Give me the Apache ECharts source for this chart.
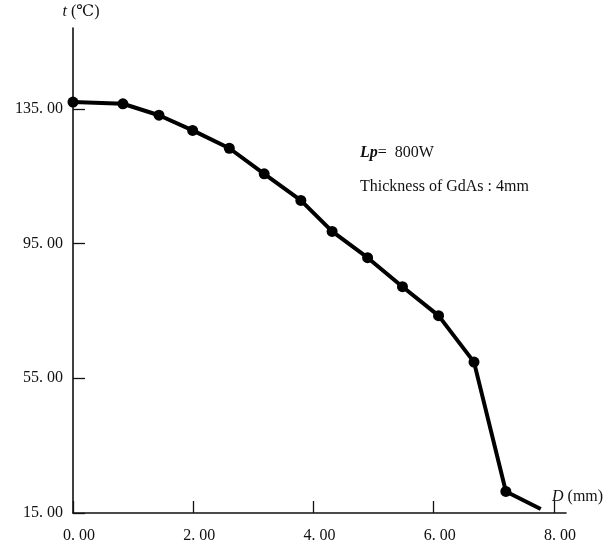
<!DOCTYPE html>
<html>
<head>
<meta charset="utf-8">
<script src="https://cdn.jsdelivr.net/npm/echarts@6/dist/echarts.min.js"></script>
<style>html,body{margin:0;padding:0;background:#fff}#c{width:609px;height:549px}</style>
</head>
<body>
<div id="c"></div>
<script>
// D (mm) values and temperatures t (°C)
const dValues = [0, 0.83, 1.43, 1.99, 2.6, 3.18, 3.79, 4.31, 4.9, 5.48, 6.08, 6.67, 7.2, 7.78];
const tValues = [137, 136.5, 133.1, 128.6, 123.3, 115.7, 107.8, 98.6, 90.8, 82.2, 73.6, 59.8, 21.4, 16.2];
const markerShown = [true, true, true, true, true, true, true, true, true, true, true, true, true, false];
const xTicks = [0, 2, 4, 6, 8];
const yTicks = [15, 55, 95, 135];
const noteLines = ['Lp', '=  800W', 'Thickness of GdAs : 4mm'];

const FONT = '"Liberation Serif", "DejaVu Serif", serif';
const fmt = v => v.toFixed(2).replace('.', '. ');

const data = dValues.map((d, i) => ({
  value: [d, tValues[i]],
  symbol: markerShown[i] ? 'circle' : 'none'
}));

const chart = echarts.init(document.getElementById('c'), null, {renderer: 'canvas'});
chart.setOption({
  animation: false,
  backgroundColor: '#fff',
  grid: {left: 73, top: 28, right: 43, bottom: 36, containLabel: false},
  xAxis: {
    type: 'value', min: 0, max: 8.2, interval: 2,
    name: '{i|D} (mm)',
    nameLocation: 'end',
    nameGap: -14,
    nameTextStyle: {
      fontFamily: FONT, fontSize: 16, color: '#111',
      align: 'left', verticalAlign: 'bottom', padding: [0, 0, 8, 0],
      rich: {i: {fontFamily: FONT, fontSize: 16, fontStyle: 'italic', color: '#111'}}
    },
    axisLine: {lineStyle: {color: '#111', width: 1.6}},
    axisTick: {inside: true, length: 12, lineStyle: {color: '#111', width: 1.3},
      customValues: xTicks},
    axisLabel: {
      customValues: xTicks,
      formatter: v => fmt(v), fontFamily: FONT, fontSize: 16, color: '#111', margin: 15,
      padding: [0, 0, 0, 12]
    },
    splitLine: {show: false}
  },
  yAxis: {
    type: 'value', min: 15, max: 159, interval: 40,
    name: '{i|t} (℃)',
    nameLocation: 'end',
    nameGap: 8,
    nameTextStyle: {
      fontFamily: FONT, fontSize: 16, color: '#111', padding: [0, 0, 0, 16],
      rich: {i: {fontFamily: FONT, fontSize: 16, fontStyle: 'italic', color: '#111'}}
    },
    axisLine: {lineStyle: {color: '#111', width: 1.6}},
    axisTick: {inside: true, length: 12, lineStyle: {color: '#111', width: 1.3},
      customValues: yTicks},
    axisLabel: {
      customValues: yTicks,
      formatter: v => fmt(v), fontFamily: FONT, fontSize: 16, color: '#111', margin: 10
    },
    splitLine: {show: false}
  },
  graphic: [
    {type: 'text', left: 360, top: 145,
      style: {text: '{i|' + noteLines[0] + '}' + noteLines[1], font: '16px ' + FONT, fill: '#111',
        rich: {i: {fontFamily: FONT, fontSize: 16, fontStyle: 'italic', fontWeight: 'bold', fill: '#111'}}}},
    {type: 'text', left: 360, top: 179,
      style: {text: noteLines[2], font: '16px ' + FONT, fill: '#111'}}
  ],
  series: [{
    type: 'line',
    data: data,
    symbol: 'circle',
    symbolSize: 11,
    lineStyle: {color: '#000', width: 4, join: 'round'},
    itemStyle: {color: '#000'},
    clip: false
  }]
});
</script>
</body>
</html>
